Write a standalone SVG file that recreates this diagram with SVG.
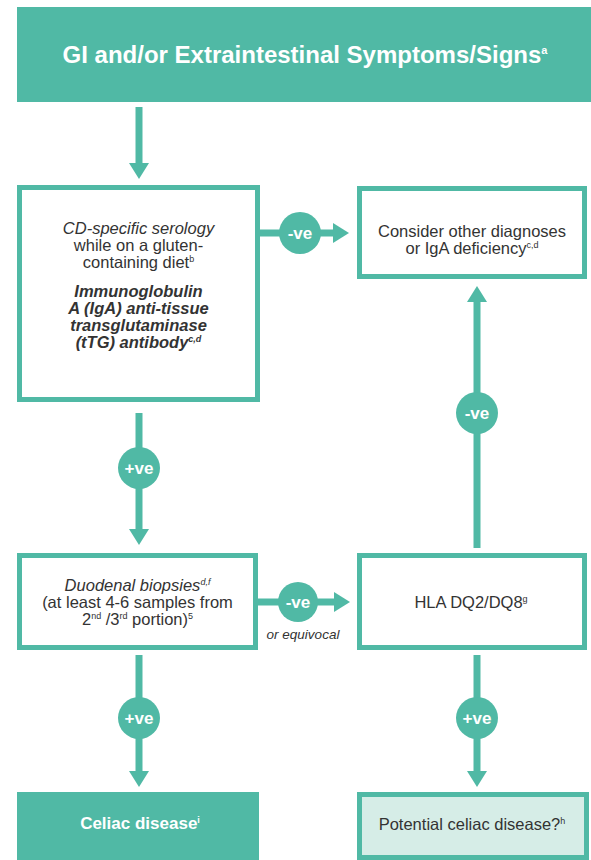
<svg xmlns="http://www.w3.org/2000/svg" width="591" height="860" viewBox="0 0 591 860">
<style>
text{font-family:"Liberation Sans",Arial,sans-serif;fill:#333333;text-anchor:middle}
.box{fill:#ffffff;stroke:#50b9a5;stroke-width:5}
.solid{fill:#50b9a5}
.pale{fill:#d6ede7;stroke:#50b9a5;stroke-width:5}
.t{font-size:16.5px}
.it{font-style:italic}
.bi{font-style:italic;font-weight:bold}
.white{fill:#ffffff}
.sup{font-size:9px}
.edge{stroke:#50b9a5;stroke-width:7;fill:none;marker-end:url(#head)}
.lab circle{fill:#50b9a5}
.lab text{fill:#ffffff;font-weight:bold;font-size:17px}
</style>
<defs>
<marker id="head" markerUnits="userSpaceOnUse" markerWidth="17" markerHeight="20" refX="0" refY="10" orient="auto">
<path d="M0,0 L16,10 L0,20 z" fill="#50b9a5"/>
</marker>
</defs>

<g id="start">
<rect class="solid" x="17" y="7" width="574" height="95"/>
<text class="white" x="305" y="63" font-size="24" font-weight="bold">GI and/or Extraintestinal Symptoms/Signs<tspan dy="-9" font-size="11">a</tspan></text>
</g>

<g id="serology">
<rect class="box" x="19.5" y="187.5" width="238" height="212"/>
<text class="t it" x="138.5" y="234">CD-specific serology</text>
<text class="t" x="138.5" y="251">while on a gluten-</text>
<text class="t" x="138.5" y="268">containing diet<tspan class="sup" dy="-6">b</tspan></text>
<text class="t bi" x="138.5" y="297">Immunoglobulin</text>
<text class="t bi" x="138.5" y="314">A (IgA) anti-tissue</text>
<text class="t bi" x="138.5" y="331">transglutaminase</text>
<text class="t bi" x="138.5" y="348">(tTG) antibody<tspan class="sup" dy="-6">c,d</tspan></text>
</g>

<g id="other">
<rect class="box" x="359.5" y="188.5" width="225" height="88"/>
<text class="t" x="472" y="237" font-size="17.5">Consider other diagnoses</text>
<text class="t" x="472" y="254" font-size="17.5">or IgA deficiency<tspan class="sup" dy="-6">c,d</tspan></text>
</g>

<g id="biopsy">
<rect class="box" x="19.5" y="555.5" width="236" height="92"/>
<text class="t it" x="137.5" y="591">Duodenal biopsies<tspan class="sup" dy="-6">d,f</tspan></text>
<text class="t" x="137.5" y="608" font-size="17.5">(at least 4-6 samples from</text>
<text class="t" x="137.5" y="625">2<tspan class="sup" dy="-6">nd</tspan><tspan dy="6"> /3</tspan><tspan class="sup" dy="-6">rd</tspan><tspan dy="6"> portion)</tspan><tspan class="sup" dy="-6">5</tspan></text>
</g>

<g id="hla">
<rect class="box" x="359.5" y="555.5" width="225" height="92"/>
<text class="t" x="471" y="608" font-size="17.5">HLA DQ2/DQ8<tspan class="sup" dy="-6">g</tspan></text>
</g>

<g id="celiac">
<rect class="solid" x="17" y="792" width="242" height="68"/>
<text class="white" x="140" y="829" font-size="17" font-weight="bold">Celiac disease<tspan class="sup" dy="-6">i</tspan></text>
</g>

<g id="potential">
<rect class="pale" x="359.5" y="794.5" width="227" height="63"/>
<text class="t" x="472" y="830" font-size="17">Potential celiac disease?<tspan class="sup" dy="-6">h</tspan></text>
</g>

<g id="connectors">
<line class="edge" x1="139" y1="107" x2="139" y2="163"/>
<line class="edge" x1="260" y1="233" x2="333" y2="233"/>
<line class="edge" x1="139" y1="413" x2="139" y2="529"/>
<line class="edge" x1="477" y1="548" x2="477" y2="302"/>
<line class="edge" x1="258" y1="602" x2="334" y2="602"/>
<line class="edge" x1="139" y1="655" x2="139" y2="771"/>
<line class="edge" x1="477" y1="655" x2="477" y2="771"/>
<g class="lab"><circle cx="300" cy="233" r="21"/><text x="300" y="239">-ve</text></g>
<g class="lab"><circle cx="139" cy="468" r="21"/><text x="139" y="474">+ve</text></g>
<g class="lab"><circle cx="477" cy="413" r="21"/><text x="477" y="419">-ve</text></g>
<g class="lab"><circle cx="298" cy="602" r="20"/><text x="298" y="608">-ve</text></g>
<text x="303" y="639" font-size="13.5" font-style="italic">or equivocal</text>
<g class="lab"><circle cx="139" cy="718" r="21"/><text x="139" y="724">+ve</text></g>
<g class="lab"><circle cx="477" cy="718" r="21"/><text x="477" y="724">+ve</text></g>
</g>
</svg>
